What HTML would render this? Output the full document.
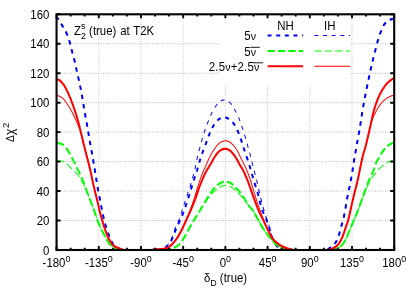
<!DOCTYPE html>
<html><head><meta charset="utf-8"><title>chart</title>
<style>
html,body{margin:0;padding:0;background:#fff;}
body{width:415px;height:300px;overflow:hidden;position:relative;font-family:"Liberation Sans",sans-serif;}
</style></head><body>
<svg width="415" height="300" viewBox="0 0 415 300" style="position:absolute;left:0;top:0">
<rect x="0" y="0" width="415" height="300" fill="#fff"/>
<path d="M98.76 14.3 V250.0 M140.96 14.3 V250.0 M183.17 14.3 V250.0 M225.38 14.3 V250.0 M267.58 14.3 V250.0 M309.79 14.3 V250.0 M351.99 14.3 V250.0" fill="none" stroke="#bdbdbd" stroke-width="0.9" stroke-dasharray="1 1.45"/>
<path d="M56.55 220.54 H394.2 M56.55 191.07 H394.2 M56.55 161.61 H394.2 M56.55 132.15 H394.2 M56.55 102.69 H394.2 M56.55 73.23 H394.2 M56.55 43.76 H394.2" fill="none" stroke="#b2b2b2" stroke-width="0.95" stroke-dasharray="1 1.45"/>
<rect x="220.3" y="23.6" width="130.2" height="61.2" fill="#fff"/>
<rect x="262" y="18" width="88.5" height="6" fill="#fff"/>
<clipPath id="c"><rect x="56.55" y="14.3" width="337.65" height="235.7"/></clipPath>
<g clip-path="url(#c)"><g transform="scale(0.92,1)" fill="none" stroke-linejoin="round">
<path d="M61.96 18.0 L63.04 18.6 L64.13 19.7 L65.22 21.4 L66.30 23.3 L67.39 25.2 L68.48 26.9 L69.57 28.5 L70.65 30.2 L71.74 32.0 L72.83 34.2 L73.91 36.8 L75.00 39.8 L76.09 43.2 L77.17 47.2 L78.26 51.2 L79.35 54.8 L80.43 58.5 L81.52 62.7 L82.61 67.4 L83.70 71.9 L84.78 76.2 L85.87 80.7 L86.96 85.4 L88.04 90.2 L89.13 95.5 L90.22 101.8 L91.30 107.9 L92.39 113.7 L93.48 119.1 L94.57 124.6 L95.65 130.5 L96.74 136.6 L97.83 142.5 L98.91 147.7 L100.00 153.4 L101.09 159.2 L102.17 164.8 L103.26 170.9 L104.35 177.3 L105.43 183.5 L106.52 189.5 L107.61 194.8 L108.70 199.8 L109.78 204.9 L110.87 210.0 L111.96 215.1 L113.04 219.4 L114.13 223.4 L115.22 226.9 L116.30 230.0 L117.39 232.9 L118.48 235.5 L119.57 238.1 L120.65 240.4 L121.74 242.4 L122.83 243.9 L123.91 245.0 L125.00 246.0 L126.09 246.9 L127.17 247.6 L128.26 248.3 L129.35 248.8 L130.43 249.3 L131.52 249.7" stroke="#0000ff" stroke-width="2.15" stroke-dasharray="4.3 5.08" stroke-dashoffset="1.94"/>
<path d="M175.00 249.7 L176.09 249.4 L177.17 248.9 L178.26 248.4 L179.35 247.8 L180.43 247.1 L181.52 246.2 L182.61 245.3 L183.70 244.2 L184.78 242.7 L185.87 241.0 L186.96 239.0 L188.04 236.9 L189.13 234.4 L190.22 231.7 L191.30 229.0 L192.39 226.6 L193.48 224.5 L194.57 222.5 L195.65 220.4 L196.74 218.2 L197.83 215.9 L198.91 213.5 L200.00 210.9 L201.09 208.1 L202.17 205.2 L203.26 202.2 L204.35 199.1 L205.43 196.0 L206.52 192.7 L207.61 189.3 L208.70 186.0 L209.78 182.8 L210.87 179.7 L211.96 176.7 L213.04 173.6 L214.13 170.5 L215.22 167.1 L216.30 163.5 L217.39 160.2 L218.48 157.0 L219.57 154.0 L220.65 151.2 L221.74 148.6 L222.83 146.1 L223.91 143.4 L225.00 140.6 L226.09 137.8 L227.17 135.2 L228.26 132.6 L229.35 130.2 L230.43 128.3 L231.52 126.5 L232.61 124.9 L233.70 123.4 L234.78 122.1 L235.87 120.9 L236.96 119.9 L238.04 119.1 L239.13 118.5 L240.22 118.0 L241.30 117.6 L242.39 117.4 L243.48 117.3 L244.57 117.4 L245.65 117.6 L246.74 117.9 L247.83 118.4 L248.91 119.0 L250.00 119.8 L251.09 120.7 L252.17 121.7 L253.26 122.7 L254.35 124.1 L255.43 125.7 L256.52 127.5 L257.61 129.5 L258.70 131.6 L259.78 134.1 L260.87 136.8 L261.96 139.7 L263.04 142.7 L264.13 145.9 L265.22 149.0 L266.30 152.0 L267.39 154.9 L268.48 157.9 L269.57 160.8 L270.65 163.8 L271.74 167.1 L272.83 170.7 L273.91 174.2 L275.00 177.8 L276.09 181.3 L277.17 184.4 L278.26 187.3 L279.35 190.3 L280.43 194.0 L281.52 198.0 L282.61 202.2 L283.70 206.5 L284.78 209.7 L285.87 212.1 L286.96 214.1 L288.04 216.2 L289.13 218.6 L290.22 221.1 L291.30 223.8 L292.39 226.9 L293.48 230.5 L294.57 234.0 L295.65 237.1 L296.74 240.0 L297.83 242.2 L298.91 243.7 L300.00 245.0 L301.09 246.1 L302.17 247.0 L303.26 247.9 L304.35 248.6 L305.43 249.2 L306.52 249.7" stroke="#0000ff" stroke-width="2.15" stroke-dasharray="4.3 5.08" stroke-dashoffset="4.63"/>
<path d="M355.43 249.7 L356.52 249.1 L357.61 248.5 L358.70 247.8 L359.78 247.1 L360.87 246.4 L361.96 245.6 L363.04 244.6 L364.13 243.4 L365.22 241.9 L366.30 239.9 L367.39 237.5 L368.48 234.7 L369.57 231.2 L370.65 227.4 L371.74 223.9 L372.83 220.5 L373.91 216.3 L375.00 211.0 L376.09 205.1 L377.17 199.1 L378.26 194.2 L379.35 189.4 L380.43 184.6 L381.52 179.4 L382.61 173.9 L383.70 167.5 L384.78 160.9 L385.87 155.0 L386.96 149.5 L388.04 143.7 L389.13 137.7 L390.22 132.5 L391.30 127.2 L392.39 120.3 L393.48 113.9 L394.57 107.9 L395.65 102.2 L396.74 96.9 L397.83 91.8 L398.91 87.0 L400.00 82.1 L401.09 77.2 L402.17 72.5 L403.26 68.0 L404.35 63.7 L405.43 59.6 L406.52 55.6 L407.61 51.6 L408.70 47.6 L409.78 43.6 L410.87 40.1 L411.96 36.9 L413.04 34.0 L414.13 31.4 L415.22 28.9 L416.30 26.6 L417.39 24.8 L418.48 23.5 L419.57 22.3 L420.65 21.4 L421.74 20.7 L422.83 20.2 L423.91 19.7 L425.00 19.4 L426.09 19.1 L427.17 18.8 L428.26 18.6" stroke="#0000ff" stroke-width="2.15" stroke-dasharray="4.3 5.08" stroke-dashoffset="8.57"/>
<path d="M61.96 18.0 L63.04 18.6 L64.13 19.7 L65.22 21.4 L66.30 23.3 L67.39 25.2 L68.48 26.9 L69.57 28.5 L70.65 30.2 L71.74 32.0 L72.83 34.2 L73.91 36.8 L75.00 39.8 L76.09 43.2 L77.17 47.2 L78.26 51.2 L79.35 54.8 L80.43 58.5 L81.52 62.7 L82.61 67.4 L83.70 71.9 L84.78 76.2 L85.87 80.7 L86.96 85.4 L88.04 90.2 L89.13 95.5 L90.22 101.8 L91.30 107.9 L92.39 113.7 L93.48 119.1 L94.57 124.6 L95.65 130.5 L96.74 136.6 L97.83 142.5 L98.91 147.7 L100.00 153.4 L101.09 159.2 L102.17 164.8 L103.26 170.9 L104.35 177.3 L105.43 183.5 L106.52 189.5 L107.61 194.8 L108.70 199.8 L109.78 204.9 L110.87 210.0 L111.96 215.1 L113.04 219.4 L114.13 223.4 L115.22 226.9 L116.30 230.0 L117.39 232.9 L118.48 235.5 L119.57 238.1 L120.65 240.4 L121.74 242.4 L122.83 243.9 L123.91 245.0 L125.00 246.0 L126.09 246.9 L127.17 247.6 L128.26 248.3 L129.35 248.8 L130.43 249.3 L131.52 249.7" stroke="#0000ff" stroke-width="1.05" stroke-dasharray="4.3 5.08" stroke-dashoffset="1.94"/>
<path d="M175.00 249.7 L176.09 249.3 L177.17 248.8 L178.26 248.2 L179.35 247.5 L180.43 246.7 L181.52 245.7 L182.61 244.6 L183.70 243.3 L184.78 241.6 L185.87 239.6 L186.96 237.4 L188.04 234.7 L189.13 231.7 L190.22 228.8 L191.30 226.3 L192.39 224.2 L193.48 222.1 L194.57 219.7 L195.65 216.9 L196.74 213.9 L197.83 210.8 L198.91 207.8 L200.00 204.9 L201.09 201.9 L202.17 198.8 L203.26 195.6 L204.35 192.6 L205.43 189.7 L206.52 186.8 L207.61 183.5 L208.70 180.0 L209.78 176.5 L210.87 173.1 L211.96 168.7 L213.04 163.4 L214.13 159.0 L215.22 154.9 L216.30 150.9 L217.39 147.1 L218.48 143.4 L219.57 139.8 L220.65 136.2 L221.74 132.9 L222.83 130.0 L223.91 127.3 L225.00 124.7 L226.09 122.0 L227.17 119.5 L228.26 117.1 L229.35 114.8 L230.43 112.6 L231.52 110.6 L232.61 108.8 L233.70 107.2 L234.78 105.8 L235.87 104.5 L236.96 103.4 L238.04 102.3 L239.13 101.5 L240.22 100.8 L241.30 100.4 L242.39 100.0 L243.48 99.9 L244.57 99.9 L245.65 100.2 L246.74 100.5 L247.83 101.1 L248.91 101.8 L250.00 102.7 L251.09 103.8 L252.17 105.2 L253.26 106.8 L254.35 108.5 L255.43 110.2 L256.52 112.0 L257.61 114.0 L258.70 116.1 L259.78 118.4 L260.87 121.0 L261.96 123.7 L263.04 126.7 L264.13 129.9 L265.22 133.1 L266.30 136.4 L267.39 139.8 L268.48 143.3 L269.57 147.0 L270.65 150.6 L271.74 154.1 L272.83 157.9 L273.91 162.1 L275.00 166.2 L276.09 170.1 L277.17 173.9 L278.26 177.6 L279.35 181.5 L280.43 185.9 L281.52 190.6 L282.61 195.0 L283.70 199.2 L284.78 203.1 L285.87 206.9 L286.96 210.4 L288.04 213.8 L289.13 217.0 L290.22 219.9 L291.30 222.6 L292.39 225.6 L293.48 229.4 L294.57 233.3 L295.65 236.5 L296.74 239.5 L297.83 241.8 L298.91 243.5 L300.00 244.9 L301.09 246.1 L302.17 247.0 L303.26 247.9 L304.35 248.6 L305.43 249.2 L306.52 249.7" stroke="#0000ff" stroke-width="1.05" stroke-dasharray="4.3 5.08" stroke-dashoffset="3.46"/>
<path d="M355.43 249.7 L356.52 249.1 L357.61 248.5 L358.70 247.8 L359.78 247.1 L360.87 246.4 L361.96 245.6 L363.04 244.6 L364.13 243.4 L365.22 241.9 L366.30 239.9 L367.39 237.5 L368.48 234.7 L369.57 231.2 L370.65 227.4 L371.74 223.9 L372.83 220.5 L373.91 216.3 L375.00 211.0 L376.09 205.1 L377.17 199.1 L378.26 194.2 L379.35 189.4 L380.43 184.6 L381.52 179.4 L382.61 173.9 L383.70 167.5 L384.78 160.9 L385.87 155.0 L386.96 149.5 L388.04 143.7 L389.13 137.7 L390.22 132.5 L391.30 127.2 L392.39 120.3 L393.48 113.9 L394.57 107.9 L395.65 102.2 L396.74 96.9 L397.83 91.8 L398.91 87.0 L400.00 82.1 L401.09 77.2 L402.17 72.5 L403.26 68.0 L404.35 63.7 L405.43 59.6 L406.52 55.6 L407.61 51.6 L408.70 47.6 L409.78 43.6 L410.87 40.1 L411.96 36.9 L413.04 34.0 L414.13 31.4 L415.22 28.9 L416.30 26.6 L417.39 24.8 L418.48 23.5 L419.57 22.3 L420.65 21.4 L421.74 20.7 L422.83 20.2 L423.91 19.7 L425.00 19.4 L426.09 19.1 L427.17 18.8 L428.26 18.6" stroke="#0000ff" stroke-width="1.05" stroke-dasharray="4.3 5.08" stroke-dashoffset="8.57"/>
<path d="M61.96 142.9 L63.04 143.0 L64.13 143.2 L65.22 143.5 L66.30 143.8 L67.39 144.3 L68.48 144.9 L69.57 145.7 L70.65 146.8 L71.74 147.9 L72.83 149.2 L73.91 150.6 L75.00 152.3 L76.09 154.0 L77.17 155.8 L78.26 157.7 L79.35 159.7 L80.43 161.8 L81.52 163.8 L82.61 165.8 L83.70 167.9 L84.78 169.9 L85.87 172.0 L86.96 174.1 L88.04 176.2 L89.13 178.5 L90.22 180.9 L91.30 183.5 L92.39 186.3 L93.48 189.1 L94.57 191.8 L95.65 194.4 L96.74 197.0 L97.83 199.6 L98.91 202.2 L100.00 204.8 L101.09 207.3 L102.17 210.0 L103.26 212.8 L104.35 216.0 L105.43 218.8 L106.52 221.5 L107.61 224.0 L108.70 226.3 L109.78 228.5 L110.87 230.6 L111.96 232.6 L113.04 234.5 L114.13 236.3 L115.22 238.1 L116.30 239.9 L117.39 241.7 L118.48 243.2 L119.57 244.4 L120.65 245.4 L121.74 246.2 L122.83 247.0 L123.91 247.6 L125.00 248.1 L126.09 248.6 L127.17 249.1 L128.26 249.4 L129.35 249.7" stroke="#00ff00" stroke-width="2.15" stroke-dasharray="7.9 3.4"/>
<path d="M182.61 249.7 L183.70 249.5 L184.78 249.2 L185.87 248.9 L186.96 248.6 L188.04 248.2 L189.13 247.8 L190.22 247.3 L191.30 246.7 L192.39 246.1 L193.48 245.4 L194.57 244.5 L195.65 243.4 L196.74 242.1 L197.83 240.8 L198.91 239.4 L200.00 237.8 L201.09 236.1 L202.17 234.2 L203.26 232.4 L204.35 230.6 L205.43 228.8 L206.52 227.0 L207.61 225.3 L208.70 223.5 L209.78 221.8 L210.87 220.2 L211.96 218.6 L213.04 216.9 L214.13 215.3 L215.22 213.8 L216.30 212.2 L217.39 210.5 L218.48 208.7 L219.57 207.0 L220.65 205.3 L221.74 203.7 L222.83 202.1 L223.91 200.4 L225.00 198.7 L226.09 197.0 L227.17 195.3 L228.26 193.8 L229.35 192.3 L230.43 190.9 L231.52 189.6 L232.61 188.4 L233.70 187.4 L234.78 186.4 L235.87 185.5 L236.96 184.6 L238.04 183.9 L239.13 183.2 L240.22 182.7 L241.30 182.2 L242.39 181.9 L243.48 181.7 L244.57 181.6 L245.65 181.6 L246.74 181.7 L247.83 182.0 L248.91 182.3 L250.00 182.8 L251.09 183.3 L252.17 184.0 L253.26 184.8 L254.35 185.8 L255.43 186.8 L256.52 187.9 L257.61 189.0 L258.70 190.0 L259.78 191.1 L260.87 192.3 L261.96 193.6 L263.04 195.1 L264.13 196.6 L265.22 198.2 L266.30 199.8 L267.39 201.3 L268.48 202.9 L269.57 204.4 L270.65 205.8 L271.74 207.1 L272.83 208.3 L273.91 209.4 L275.00 210.7 L276.09 212.2 L277.17 214.0 L278.26 215.9 L279.35 217.8 L280.43 219.6 L281.52 221.4 L282.61 223.1 L283.70 224.9 L284.78 226.6 L285.87 228.3 L286.96 229.8 L288.04 231.3 L289.13 232.6 L290.22 233.9 L291.30 235.2 L292.39 236.4 L293.48 237.5 L294.57 238.8 L295.65 240.0 L296.74 241.3 L297.83 242.4 L298.91 243.5 L300.00 244.3 L301.09 245.0 L302.17 245.6 L303.26 246.1 L304.35 246.6 L305.43 247.0 L306.52 247.4 L307.61 247.8 L308.70 248.2 L309.78 248.6 L310.87 249.0 L311.96 249.4 L313.04 249.7" stroke="#00ff00" stroke-width="2.15" stroke-dasharray="7.9 3.4" stroke-dashoffset="4.54"/>
<path d="M361.96 249.7 L363.04 249.5 L364.13 249.1 L365.22 248.8 L366.30 248.4 L367.39 247.9 L368.48 247.3 L369.57 246.7 L370.65 246.0 L371.74 245.1 L372.83 243.9 L373.91 242.4 L375.00 240.6 L376.09 238.7 L377.17 236.7 L378.26 234.3 L379.35 231.9 L380.43 229.5 L381.52 227.1 L382.61 224.7 L383.70 222.2 L384.78 219.8 L385.87 217.5 L386.96 215.2 L388.04 212.9 L389.13 210.4 L390.22 207.8 L391.30 204.9 L392.39 202.1 L393.48 199.2 L394.57 196.5 L395.65 193.7 L396.74 191.0 L397.83 188.4 L398.91 185.7 L400.00 183.0 L401.09 180.5 L402.17 178.2 L403.26 176.1 L404.35 173.9 L405.43 171.6 L406.52 169.1 L407.61 166.3 L408.70 163.3 L409.78 161.1 L410.87 159.3 L411.96 157.6 L413.04 155.9 L414.13 154.2 L415.22 152.5 L416.30 151.0 L417.39 149.7 L418.48 148.5 L419.57 147.4 L420.65 146.5 L421.74 145.6 L422.83 144.9 L423.91 144.3 L425.00 143.7 L426.09 143.2 L427.17 142.7 L428.26 142.4" stroke="#00ff00" stroke-width="2.15" stroke-dasharray="7.9 3.4" stroke-dashoffset="2.05"/>
<path d="M61.96 160.5 L63.04 160.6 L64.13 160.7 L65.22 160.8 L66.30 161.0 L67.39 161.2 L68.48 161.5 L69.57 162.0 L70.65 162.7 L71.74 163.5 L72.83 164.2 L73.91 165.1 L75.00 166.2 L76.09 167.2 L77.17 168.2 L78.26 169.1 L79.35 170.0 L80.43 170.8 L81.52 171.8 L82.61 172.8 L83.70 174.0 L84.78 175.2 L85.87 176.6 L86.96 178.4 L88.04 180.3 L89.13 182.1 L90.22 183.5 L91.30 185.0 L92.39 186.8 L93.48 189.2 L94.57 191.7 L95.65 194.3 L96.74 196.9 L97.83 199.6 L98.91 202.2 L100.00 204.8 L101.09 207.3 L102.17 210.0 L103.26 212.8 L104.35 216.0 L105.43 218.8 L106.52 221.5 L107.61 224.0 L108.70 226.3 L109.78 228.5 L110.87 230.6 L111.96 232.6 L113.04 234.5 L114.13 236.3 L115.22 238.1 L116.30 239.9 L117.39 241.7 L118.48 243.2 L119.57 244.4 L120.65 245.4 L121.74 246.2 L122.83 247.0 L123.91 247.6 L125.00 248.1 L126.09 248.6 L127.17 249.1 L128.26 249.4 L129.35 249.7" stroke="#00ff00" stroke-width="1.05" stroke-dasharray="7.9 3.4"/>
<path d="M182.61 249.7 L183.70 249.5 L184.78 249.2 L185.87 248.9 L186.96 248.6 L188.04 248.2 L189.13 247.8 L190.22 247.3 L191.30 246.7 L192.39 246.1 L193.48 245.4 L194.57 244.5 L195.65 243.4 L196.74 242.1 L197.83 240.8 L198.91 239.4 L200.00 237.8 L201.09 236.1 L202.17 234.2 L203.26 232.4 L204.35 230.6 L205.43 228.8 L206.52 227.0 L207.61 225.3 L208.70 223.5 L209.78 221.8 L210.87 220.2 L211.96 218.6 L213.04 216.9 L214.13 215.3 L215.22 213.8 L216.30 212.2 L217.39 210.5 L218.48 208.8 L219.57 207.2 L220.65 205.8 L221.74 204.4 L222.83 203.0 L223.91 201.5 L225.00 200.0 L226.09 198.5 L227.17 197.2 L228.26 195.9 L229.35 194.7 L230.43 193.6 L231.52 192.5 L232.61 191.5 L233.70 190.5 L234.78 189.7 L235.87 188.9 L236.96 188.1 L238.04 187.5 L239.13 186.9 L240.22 186.4 L241.30 186.1 L242.39 185.8 L243.48 185.6 L244.57 185.5 L245.65 185.5 L246.74 185.6 L247.83 185.8 L248.91 186.1 L250.00 186.4 L251.09 186.9 L252.17 187.5 L253.26 188.3 L254.35 189.1 L255.43 190.0 L256.52 190.9 L257.61 191.9 L258.70 192.9 L259.78 193.9 L260.87 194.9 L261.96 195.9 L263.04 197.0 L264.13 198.1 L265.22 199.3 L266.30 200.5 L267.39 201.9 L268.48 203.2 L269.57 204.6 L270.65 205.9 L271.74 207.2 L272.83 208.3 L273.91 209.5 L275.00 210.7 L276.09 212.2 L277.17 214.0 L278.26 215.9 L279.35 217.8 L280.43 219.6 L281.52 221.4 L282.61 223.1 L283.70 224.9 L284.78 226.6 L285.87 228.3 L286.96 229.8 L288.04 231.3 L289.13 232.6 L290.22 233.9 L291.30 235.2 L292.39 236.4 L293.48 237.5 L294.57 238.8 L295.65 240.0 L296.74 241.3 L297.83 242.4 L298.91 243.5 L300.00 244.3 L301.09 245.0 L302.17 245.6 L303.26 246.1 L304.35 246.6 L305.43 247.0 L306.52 247.4 L307.61 247.8 L308.70 248.2 L309.78 248.6 L310.87 249.0 L311.96 249.4 L313.04 249.7" stroke="#00ff00" stroke-width="1.05" stroke-dasharray="7.9 3.4" stroke-dashoffset="4.54"/>
<path d="M361.96 249.7 L363.04 249.5 L364.13 249.1 L365.22 248.8 L366.30 248.4 L367.39 247.9 L368.48 247.3 L369.57 246.7 L370.65 246.0 L371.74 245.1 L372.83 243.9 L373.91 242.4 L375.00 240.6 L376.09 238.7 L377.17 236.7 L378.26 234.3 L379.35 231.9 L380.43 229.5 L381.52 227.1 L382.61 224.7 L383.70 222.2 L384.78 219.8 L385.87 217.5 L386.96 215.2 L388.04 212.8 L389.13 210.4 L390.22 207.8 L391.30 205.0 L392.39 202.2 L393.48 199.5 L394.57 197.0 L395.65 194.5 L396.74 192.1 L397.83 189.7 L398.91 187.3 L400.00 185.0 L401.09 182.8 L402.17 180.8 L403.26 179.2 L404.35 177.7 L405.43 176.4 L406.52 175.1 L407.61 173.9 L408.70 172.6 L409.78 171.4 L410.87 170.2 L411.96 169.1 L413.04 168.1 L414.13 167.2 L415.22 166.4 L416.30 165.6 L417.39 164.8 L418.48 164.1 L419.57 163.4 L420.65 162.7 L421.74 162.2 L422.83 161.7 L423.91 161.3 L425.00 161.0 L426.09 160.6 L427.17 160.4 L428.26 160.2" stroke="#00ff00" stroke-width="1.05" stroke-dasharray="7.9 3.4" stroke-dashoffset="5.45"/>
<path d="M61.96 79.4 L63.04 79.6 L64.13 80.0 L65.22 80.7 L66.30 81.6 L67.39 82.7 L68.48 83.9 L69.57 85.2 L70.65 86.9 L71.74 88.8 L72.83 90.8 L73.91 92.8 L75.00 95.1 L76.09 97.4 L77.17 99.8 L78.26 102.5 L79.35 105.2 L80.43 108.1 L81.52 111.1 L82.61 114.1 L83.70 117.2 L84.78 120.7 L85.87 124.6 L86.96 128.8 L88.04 132.9 L89.13 137.1 L90.22 141.2 L91.30 145.3 L92.39 149.3 L93.48 153.3 L94.57 157.1 L95.65 160.9 L96.74 164.9 L97.83 169.1 L98.91 173.6 L100.00 178.4 L101.09 182.9 L102.17 187.2 L103.26 191.4 L104.35 195.5 L105.43 199.5 L106.52 203.6 L107.61 208.4 L108.70 212.6 L109.78 216.0 L110.87 219.5 L111.96 223.0 L113.04 226.3 L114.13 229.3 L115.22 232.1 L116.30 234.8 L117.39 237.2 L118.48 239.2 L119.57 240.9 L120.65 242.5 L121.74 243.9 L122.83 245.0 L123.91 245.8 L125.00 246.5 L126.09 247.0 L127.17 247.5 L128.26 247.9 L129.35 248.3 L130.43 248.7 L131.52 249.1 L132.61 249.4 L133.70 249.7" stroke="#ff0000" stroke-width="2.15"/>
<path d="M165.22 249.7 L166.30 249.6 L167.39 249.6 L168.48 249.5 L169.57 249.4 L170.65 249.3 L171.74 249.3 L172.83 249.2 L173.91 249.1 L175.00 249.0 L176.09 249.0 L177.17 248.9 L178.26 248.8 L179.35 248.7 L180.43 248.4 L181.52 248.0 L182.61 247.5 L183.70 246.9 L184.78 246.2 L185.87 245.3 L186.96 244.4 L188.04 243.3 L189.13 242.1 L190.22 240.9 L191.30 239.6 L192.39 238.1 L193.48 236.6 L194.57 234.9 L195.65 233.2 L196.74 231.3 L197.83 229.4 L198.91 227.3 L200.00 225.1 L201.09 222.9 L202.17 220.6 L203.26 218.4 L204.35 216.3 L205.43 214.1 L206.52 211.9 L207.61 209.6 L208.70 207.3 L209.78 204.9 L210.87 202.4 L211.96 199.8 L213.04 196.9 L214.13 194.0 L215.22 190.9 L216.30 188.0 L217.39 185.4 L218.48 182.9 L219.57 180.4 L220.65 178.1 L221.74 175.8 L222.83 173.7 L223.91 171.7 L225.00 169.9 L226.09 168.3 L227.17 166.7 L228.26 165.2 L229.35 163.5 L230.43 161.6 L231.52 159.7 L232.61 158.0 L233.70 156.4 L234.78 155.0 L235.87 153.7 L236.96 152.5 L238.04 151.5 L239.13 150.7 L240.22 150.0 L241.30 149.5 L242.39 149.1 L243.48 148.9 L244.57 148.8 L245.65 148.9 L246.74 149.1 L247.83 149.5 L248.91 150.0 L250.00 150.7 L251.09 151.5 L252.17 152.5 L253.26 153.6 L254.35 155.0 L255.43 156.4 L256.52 157.9 L257.61 159.5 L258.70 161.4 L259.78 163.2 L260.87 165.1 L261.96 166.7 L263.04 168.4 L264.13 170.2 L265.22 172.1 L266.30 174.3 L267.39 176.7 L268.48 179.1 L269.57 181.7 L270.65 184.3 L271.74 187.1 L272.83 190.0 L273.91 193.0 L275.00 195.8 L276.09 198.6 L277.17 201.3 L278.26 204.0 L279.35 206.6 L280.43 209.1 L281.52 211.4 L282.61 213.5 L283.70 215.6 L284.78 217.6 L285.87 219.6 L286.96 221.7 L288.04 223.9 L289.13 226.1 L290.22 228.3 L291.30 230.3 L292.39 232.2 L293.48 234.2 L294.57 236.0 L295.65 237.7 L296.74 239.1 L297.83 240.2 L298.91 241.2 L300.00 242.1 L301.09 243.0 L302.17 243.7 L303.26 244.4 L304.35 245.0 L305.43 245.6 L306.52 246.2 L307.61 246.7 L308.70 247.1 L309.78 247.6 L310.87 247.9 L311.96 248.3 L313.04 248.6 L314.13 248.8 L315.22 249.1 L316.30 249.3 L317.39 249.5 L318.48 249.7" stroke="#ff0000" stroke-width="2.15"/>
<path d="M357.61 249.7 L358.70 249.4 L359.78 249.1 L360.87 248.7 L361.96 248.2 L363.04 247.7 L364.13 247.1 L365.22 246.5 L366.30 245.7 L367.39 244.8 L368.48 243.5 L369.57 241.9 L370.65 240.0 L371.74 237.9 L372.83 235.5 L373.91 232.6 L375.00 229.6 L376.09 226.7 L377.17 223.9 L378.26 220.8 L379.35 217.1 L380.43 212.4 L381.52 208.0 L382.61 203.6 L383.70 199.3 L384.78 195.1 L385.87 191.0 L386.96 187.1 L388.04 183.1 L389.13 178.7 L390.22 173.9 L391.30 169.0 L392.39 164.1 L393.48 159.4 L394.57 155.3 L395.65 151.8 L396.74 148.5 L397.83 144.8 L398.91 140.6 L400.00 136.4 L401.09 132.1 L402.17 127.7 L403.26 123.2 L404.35 118.4 L405.43 113.9 L406.52 110.1 L407.61 106.8 L408.70 103.8 L409.78 101.1 L410.87 98.5 L411.96 96.2 L413.04 94.1 L414.13 92.2 L415.22 90.4 L416.30 88.8 L417.39 87.3 L418.48 85.9 L419.57 84.6 L420.65 83.5 L421.74 82.4 L422.83 81.6 L423.91 80.7 L425.00 80.0 L426.09 79.3 L427.17 78.8 L428.26 78.3" stroke="#ff0000" stroke-width="2.15"/>
<path d="M61.96 95.6 L63.04 95.8 L64.13 96.1 L65.22 96.6 L66.30 97.1 L67.39 97.8 L68.48 98.6 L69.57 99.6 L70.65 100.8 L71.74 102.2 L72.83 103.8 L73.91 105.3 L75.00 106.8 L76.09 108.5 L77.17 110.3 L78.26 112.1 L79.35 114.0 L80.43 116.0 L81.52 118.0 L82.61 120.2 L83.70 122.6 L84.78 125.1 L85.87 127.4 L86.96 129.7 L88.04 132.7 L89.13 136.9 L90.22 141.2 L91.30 145.3 L92.39 149.3 L93.48 153.3 L94.57 157.1 L95.65 160.9 L96.74 164.9 L97.83 169.1 L98.91 173.6 L100.00 178.4 L101.09 182.9 L102.17 187.2 L103.26 191.4 L104.35 195.5 L105.43 199.5 L106.52 203.6 L107.61 208.4 L108.70 212.6 L109.78 216.0 L110.87 219.5 L111.96 223.0 L113.04 226.3 L114.13 229.3 L115.22 232.1 L116.30 234.8 L117.39 237.2 L118.48 239.2 L119.57 240.9 L120.65 242.5 L121.74 243.9 L122.83 245.0 L123.91 245.8 L125.00 246.5 L126.09 247.0 L127.17 247.5 L128.26 247.9 L129.35 248.3 L130.43 248.7 L131.52 249.1 L132.61 249.4 L133.70 249.7" stroke="#ff0000" stroke-width="1.05"/>
<path d="M165.22 249.7 L166.30 249.6 L167.39 249.6 L168.48 249.5 L169.57 249.4 L170.65 249.3 L171.74 249.3 L172.83 249.2 L173.91 249.1 L175.00 249.0 L176.09 249.0 L177.17 248.9 L178.26 248.8 L179.35 248.7 L180.43 248.4 L181.52 248.0 L182.61 247.5 L183.70 246.9 L184.78 246.2 L185.87 245.3 L186.96 244.4 L188.04 243.3 L189.13 242.1 L190.22 240.9 L191.30 239.6 L192.39 238.1 L193.48 236.6 L194.57 234.9 L195.65 233.2 L196.74 231.3 L197.83 229.4 L198.91 227.3 L200.00 225.0 L201.09 222.6 L202.17 220.2 L203.26 217.8 L204.35 215.5 L205.43 213.1 L206.52 210.5 L207.61 207.9 L208.70 205.0 L209.78 202.1 L210.87 199.1 L211.96 195.8 L213.04 192.4 L214.13 189.1 L215.22 185.9 L216.30 182.9 L217.39 179.9 L218.48 177.1 L219.57 174.3 L220.65 171.8 L221.74 169.5 L222.83 167.4 L223.91 165.2 L225.00 163.0 L226.09 160.7 L227.17 158.6 L228.26 156.6 L229.35 154.7 L230.43 152.8 L231.52 151.1 L232.61 149.6 L233.70 148.2 L234.78 146.8 L235.87 145.6 L236.96 144.4 L238.04 143.5 L239.13 142.7 L240.22 142.1 L241.30 141.5 L242.39 141.2 L243.48 140.9 L244.57 140.8 L245.65 140.8 L246.74 141.0 L247.83 141.3 L248.91 141.7 L250.00 142.3 L251.09 143.0 L252.17 143.8 L253.26 144.9 L254.35 146.0 L255.43 147.3 L256.52 148.7 L257.61 150.2 L258.70 152.0 L259.78 154.0 L260.87 156.2 L261.96 158.3 L263.04 160.3 L264.13 162.2 L265.22 164.2 L266.30 166.3 L267.39 168.5 L268.48 170.8 L269.57 173.3 L270.65 176.0 L271.74 178.8 L272.83 181.8 L273.91 184.9 L275.00 188.3 L276.09 191.8 L277.17 195.2 L278.26 198.5 L279.35 201.6 L280.43 204.7 L281.52 207.6 L282.61 210.5 L283.70 213.3 L284.78 215.9 L285.87 218.3 L286.96 220.8 L288.04 223.2 L289.13 225.5 L290.22 227.7 L291.30 229.9 L292.39 231.9 L293.48 233.9 L294.57 235.9 L295.65 237.6 L296.74 239.1 L297.83 240.2 L298.91 241.2 L300.00 242.2 L301.09 243.0 L302.17 243.7 L303.26 244.4 L304.35 245.0 L305.43 245.6 L306.52 246.2 L307.61 246.7 L308.70 247.1 L309.78 247.6 L310.87 247.9 L311.96 248.3 L313.04 248.6 L314.13 248.8 L315.22 249.1 L316.30 249.3 L317.39 249.5 L318.48 249.7" stroke="#ff0000" stroke-width="1.05"/>
<path d="M357.61 249.7 L358.70 249.4 L359.78 249.1 L360.87 248.7 L361.96 248.2 L363.04 247.7 L364.13 247.1 L365.22 246.5 L366.30 245.7 L367.39 244.8 L368.48 243.5 L369.57 241.9 L370.65 240.0 L371.74 237.9 L372.83 235.5 L373.91 232.6 L375.00 229.6 L376.09 226.7 L377.17 223.9 L378.26 220.8 L379.35 217.1 L380.43 212.4 L381.52 208.0 L382.61 203.6 L383.70 199.3 L384.78 195.1 L385.87 191.0 L386.96 187.1 L388.04 183.1 L389.13 178.7 L390.22 173.9 L391.30 169.0 L392.39 164.1 L393.48 159.4 L394.57 155.3 L395.65 151.8 L396.74 148.5 L397.83 144.8 L398.91 140.6 L400.00 136.4 L401.09 132.0 L402.17 127.4 L403.26 123.6 L404.35 120.4 L405.43 117.8 L406.52 115.5 L407.61 113.5 L408.70 111.6 L409.78 109.7 L410.87 107.9 L411.96 106.3 L413.04 104.9 L414.13 103.6 L415.22 102.5 L416.30 101.4 L417.39 100.5 L418.48 99.6 L419.57 98.8 L420.65 98.1 L421.74 97.5 L422.83 97.0 L423.91 96.5 L425.00 96.1 L426.09 95.7 L427.17 95.4 L428.26 95.2" stroke="#ff0000" stroke-width="1.05"/>
</g></g>
<path d="M56.55 250.0 v-4.0 M56.55 14.3 v4.0 M70.62 250.0 v-2.3 M70.62 14.3 v2.3 M84.69 250.0 v-2.3 M84.69 14.3 v2.3 M98.76 250.0 v-4.0 M98.76 14.3 v4.0 M112.82 250.0 v-2.3 M112.82 14.3 v2.3 M126.89 250.0 v-2.3 M126.89 14.3 v2.3 M140.96 250.0 v-4.0 M140.96 14.3 v4.0 M155.03 250.0 v-2.3 M155.03 14.3 v2.3 M169.10 250.0 v-2.3 M169.10 14.3 v2.3 M183.17 250.0 v-4.0 M183.17 14.3 v4.0 M197.24 250.0 v-2.3 M197.24 14.3 v2.3 M211.31 250.0 v-2.3 M211.31 14.3 v2.3 M225.38 250.0 v-4.0 M225.38 14.3 v4.0 M239.44 250.0 v-2.3 M239.44 14.3 v2.3 M253.51 250.0 v-2.3 M253.51 14.3 v2.3 M267.58 250.0 v-4.0 M267.58 14.3 v4.0 M281.65 250.0 v-2.3 M281.65 14.3 v2.3 M295.72 250.0 v-2.3 M295.72 14.3 v2.3 M309.79 250.0 v-4.0 M309.79 14.3 v4.0 M323.86 250.0 v-2.3 M323.86 14.3 v2.3 M337.93 250.0 v-2.3 M337.93 14.3 v2.3 M351.99 250.0 v-4.0 M351.99 14.3 v4.0 M366.06 250.0 v-2.3 M366.06 14.3 v2.3 M380.13 250.0 v-2.3 M380.13 14.3 v2.3 M394.20 250.0 v-4.0 M394.20 14.3 v4.0 M56.55 250.00 h4.0 M394.2 250.00 h-4.0 M56.55 220.54 h4.0 M394.2 220.54 h-4.0 M56.55 191.07 h4.0 M394.2 191.07 h-4.0 M56.55 161.61 h4.0 M394.2 161.61 h-4.0 M56.55 132.15 h4.0 M394.2 132.15 h-4.0 M56.55 102.69 h4.0 M394.2 102.69 h-4.0 M56.55 73.23 h4.0 M394.2 73.23 h-4.0 M56.55 43.76 h4.0 M394.2 43.76 h-4.0 M56.55 14.30 h4.0 M394.2 14.30 h-4.0" fill="none" stroke="#000" stroke-width="1.9"/>
<rect x="56.55" y="14.3" width="337.65" height="235.7" fill="none" stroke="#000" stroke-width="2.1"/>
<path transform="scale(0.92,1)" d="M290.87 35.5 H329.46" fill="none" stroke="#0000ff" stroke-width="2.15" stroke-dasharray="4.3 5.08"/>
<path transform="scale(0.92,1)" d="M341.74 35.5 H380.54" fill="none" stroke="#0000ff" stroke-width="1.05" stroke-dasharray="4.3 5.08"/>
<path transform="scale(0.92,1)" d="M290.87 51.0 H329.46" fill="none" stroke="#00ff00" stroke-width="2.15" stroke-dasharray="7.9 3.4"/>
<path transform="scale(0.92,1)" d="M341.74 51.0 H380.54" fill="none" stroke="#00ff00" stroke-width="1.05" stroke-dasharray="7.9 3.4"/>
<path transform="scale(0.92,1)" d="M290.87 66.2 H329.46" fill="none" stroke="#ff0000" stroke-width="2.15"/>
<path transform="scale(0.92,1)" d="M341.74 66.2 H380.54" fill="none" stroke="#ff0000" stroke-width="1.05"/>
<g font-family="Liberation Sans, sans-serif" font-size="12.4" fill="#000" style="filter:grayscale(1)">
<text transform="translate(49.4,254.5) scale(0.92,1)" text-anchor="end" >0</text>
<text transform="translate(49.4,225.0) scale(0.92,1)" text-anchor="end" >20</text>
<text transform="translate(49.4,195.6) scale(0.92,1)" text-anchor="end" >40</text>
<text transform="translate(49.4,166.1) scale(0.92,1)" text-anchor="end" >60</text>
<text transform="translate(49.4,136.7) scale(0.92,1)" text-anchor="end" >80</text>
<text transform="translate(49.4,107.2) scale(0.92,1)" text-anchor="end" >100</text>
<text transform="translate(49.4,77.7) scale(0.92,1)" text-anchor="end" >120</text>
<text transform="translate(49.4,48.3) scale(0.92,1)" text-anchor="end" >140</text>
<text transform="translate(49.4,18.8) scale(0.92,1)" text-anchor="end" >160</text>
<text transform="translate(56.5,266.7) scale(0.92,1)" text-anchor="middle" >-180<tspan font-size="9.67" dy="-4.8">0</tspan></text>
<text transform="translate(98.8,266.7) scale(0.92,1)" text-anchor="middle" >-135<tspan font-size="9.67" dy="-4.8">0</tspan></text>
<text transform="translate(141.0,266.7) scale(0.92,1)" text-anchor="middle" >-90<tspan font-size="9.67" dy="-4.8">0</tspan></text>
<text transform="translate(183.2,266.7) scale(0.92,1)" text-anchor="middle" >-45<tspan font-size="9.67" dy="-4.8">0</tspan></text>
<text transform="translate(225.4,266.7) scale(0.92,1)" text-anchor="middle" >0<tspan font-size="9.67" dy="-4.8">0</tspan></text>
<text transform="translate(267.6,266.7) scale(0.92,1)" text-anchor="middle" >45<tspan font-size="9.67" dy="-4.8">0</tspan></text>
<text transform="translate(309.8,266.7) scale(0.92,1)" text-anchor="middle" >90<tspan font-size="9.67" dy="-4.8">0</tspan></text>
<text transform="translate(352.0,266.7) scale(0.92,1)" text-anchor="middle" >135<tspan font-size="9.67" dy="-4.8">0</tspan></text>
<text transform="translate(394.2,266.7) scale(0.92,1)" text-anchor="middle" >180<tspan font-size="9.67" dy="-4.8">0</tspan></text>
<text transform="translate(74,34.9) scale(0.92,1)" text-anchor="start" >Z<tspan font-size="9.67" dy="4.3">2</tspan><tspan font-size="9.67" dy="-10.2" dx="-5.4">s</tspan><tspan dy="5.9" dx="0.6"> (true)</tspan><tspan dx="0.7"> at</tspan><tspan dx="0.7"> T2K</tspan></text>
<text transform="translate(285.5,30.3) scale(0.92,1)" text-anchor="middle" >NH</text>
<text transform="translate(329.7,30.3) scale(0.92,1)" text-anchor="middle" >IH</text>
<text transform="translate(256.0,39.7) scale(0.92,1)" text-anchor="end" >5<tspan font-size="11.6">ν</tspan></text>
<text transform="translate(256.0,55.6) scale(0.92,1)" text-anchor="end" >5<tspan font-size="11.6">ν</tspan></text>
<text transform="translate(259.5,71.3) scale(0.92,1)" text-anchor="end" letter-spacing="0.21">2.5<tspan font-size="11.6">ν</tspan>+2.5<tspan font-size="11.6">ν</tspan></text>
<text transform="translate(225.5,282.2) scale(0.92,1)" text-anchor="middle" >δ<tspan font-size="9.7" dy="4.2">D</tspan><tspan dy="-4.2"> (true)</tspan></text>
<text transform="translate(14.1,142) rotate(-90)"><tspan font-size="10.4">Δ</tspan><tspan font-size="12.2">χ</tspan><tspan font-size="9.4" dy="-5.3" dx="0.6">2</tspan></text>
</g>
<path d="M250.3 47.3 H259.8 M253 62.8 H263.2" fill="none" stroke="#000" stroke-width="0.9"/>
</svg>
</body></html>
